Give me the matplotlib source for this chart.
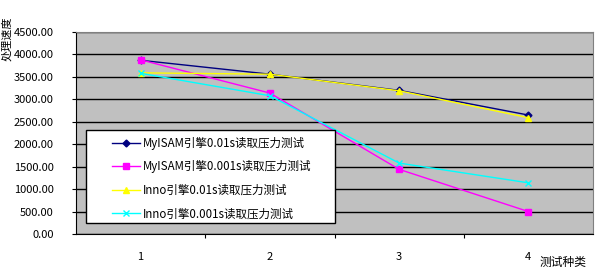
import matplotlib
matplotlib.use("Agg")
import matplotlib.pyplot as plt
from matplotlib.patches import Rectangle
from matplotlib.ticker import FixedLocator, FormatStrFormatter

plt.rcParams["font.family"] = ["Noto Sans CJK SC", "DejaVu Sans"]

categories = ["1", "2", "3", "4"]
myisam_001 = [3870, 3560, 3200, 2650]
myisam_0001 = [3880, 3140, 1440, 500]
inno_001 = [3590, 3560, 3190, 2590]
inno_0001 = [3580, 3080, 1580, 1140]

series = [
    ("MyISAM引擎0.01s读取压力测试", myisam_001, "#000080", "D", 3.5),
    ("MyISAM引擎0.001s读取压力测试", myisam_0001, "#FF00FF", "s", 4.5),
    ("Inno引擎0.01s读取压力测试", inno_001, "#FFFF00", "^", 5),
    ("Inno引擎0.001s读取压力测试", inno_0001, "#00FFFF", "x", 4.5),
]

fig = plt.figure(figsize=(6.02, 2.76), dpi=100)
ax = fig.add_axes([76 / 602, 1 - 234 / 276, 517 / 602, 202 / 276])
ax.set_facecolor("#C0C0C0")

x = range(len(categories))
for label, vals, color, marker, ms in series:
    ax.plot(x, vals, color=color, marker=marker, markersize=ms, linewidth=1,
            label=label, markeredgecolor=color)

ax.set_xlim(-0.5, len(categories) - 0.5)
ax.set_ylim(0, 4500)
ax.yaxis.set_major_locator(FixedLocator([i * 500 for i in range(10)]))
ax.yaxis.set_major_formatter(FormatStrFormatter("%.2f"))
ax.grid(axis="y", color="black", linewidth=1)
ax.set_axisbelow(True)

ax.set_xticks([0.5, 1.5, 2.5])
ax.set_xticklabels([])
ax.set_xticks(list(x), minor=True)
ax.set_xticklabels(categories, minor=True)
ax.tick_params(axis="x", which="minor", length=0, pad=13, labelsize=8)
ax.tick_params(axis="x", which="major", length=3, direction="out")
ax.tick_params(axis="y", length=3, direction="out", pad=13, labelsize=8)

for side in ["top", "right"]:
    ax.spines[side].set_color("#808080")
for side in ["left", "bottom"]:
    ax.spines[side].set_color("black")

# legend box drawn by hand so it can be wider than its contents
ax.add_patch(Rectangle((10 / 517, 11 / 202), 249 / 517, 93 / 202,
                       transform=ax.transAxes, facecolor="white",
                       edgecolor="black", linewidth=1, zorder=5))
leg = ax.legend(loc="upper left", bbox_to_anchor=(36 / 517, 97 / 202),
                frameon=False, fontsize=8.3, labelspacing=0.9,
                handlelength=2.4, handletextpad=0.3, borderpad=0,
                borderaxespad=0)
leg.set_zorder(6)

fig.text(7 / 602, 1 - 39 / 276, "处理速度", rotation=90, fontsize=8,
         ha="center", va="center")
fig.text(563 / 602, 1 - 262 / 276, "测试种类", fontsize=8.5,
         ha="center", va="center")

fig.savefig("out.png", dpi=100)
